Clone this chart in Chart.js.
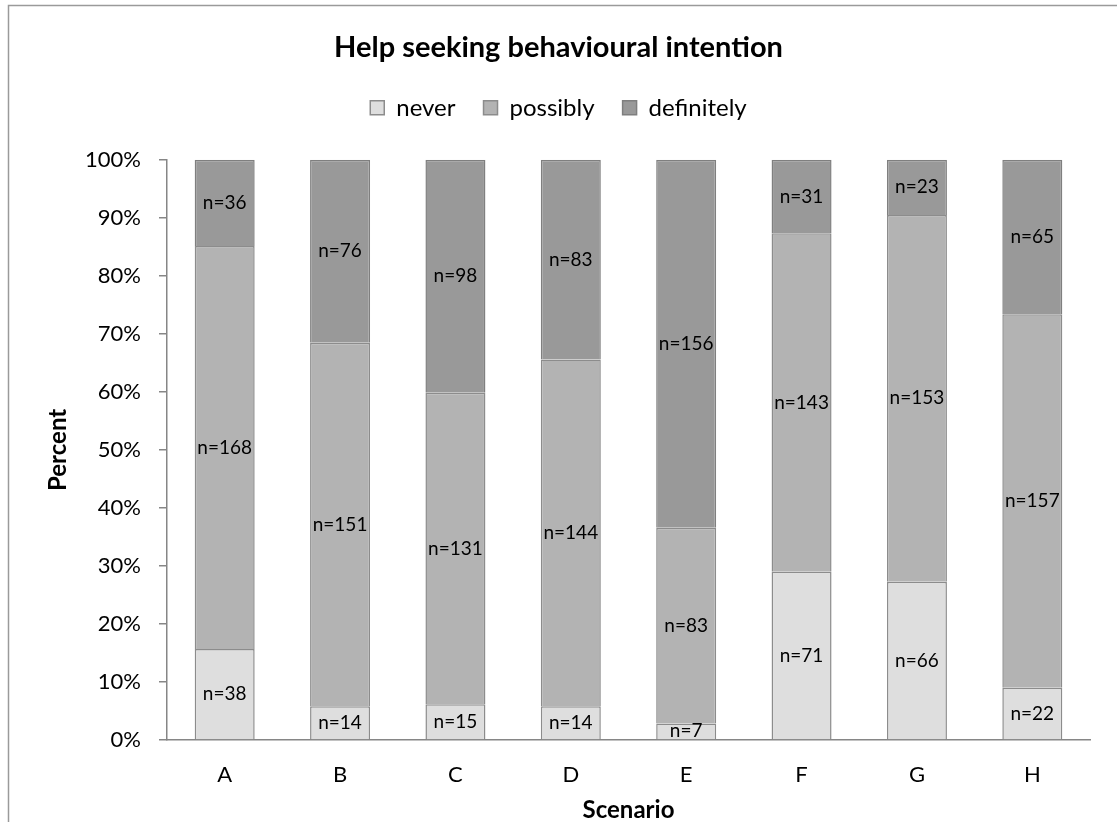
<!DOCTYPE html>
<html>
<head>
<meta charset="utf-8">
<script src="https://cdn.jsdelivr.net/npm/chart.js@4/dist/chart.umd.min.js"></script>
<style>
  html, body { margin: 0; padding: 0; background: #fff; }
  canvas { display: block; }
</style>
</head>
<body>
<canvas id="myChart" width="1117" height="822"></canvas>
<script>
// counts per scenario
var scenarios = ['A', 'B', 'C', 'D', 'E', 'F', 'G', 'H'];
var never      = [38, 14, 15, 14, 7, 71, 66, 22];
var possibly   = [168, 151, 131, 144, 83, 143, 153, 157];
var definitely = [36, 76, 98, 83, 156, 31, 23, 65];
var yTicks = [0, 10, 20, 30, 40, 50, 60, 70, 80, 90, 100];

var FONT = 'Lato, "Open Sans", sans-serif';

// turn counts into percent of each scenario total
var totals = scenarios.map(function(s, i){ return never[i] + possibly[i] + definitely[i]; });
function pct(arr){ return arr.map(function(v, i){ return v / totals[i] * 100; }); }

var seriesCounts = [never, possibly, definitely];

var frame = {
  id: 'frame',
  beforeDraw: function(chart){
    var c = chart.ctx;
    c.save();
    c.fillStyle = '#fff';
    c.fillRect(0, 0, chart.width, chart.height);
    c.strokeStyle = '#9a9a9a';
    c.lineWidth = 1.5;
    c.beginPath();
    c.moveTo(8.5, chart.height + 2);
    c.lineTo(8.5, 5.5);
    c.lineTo(chart.width + 2, 5.5);
    c.stroke();
    c.restore();
  }
};

var nLabels = {
  id: 'nLabels',
  afterDatasetsDraw: function(chart){
    var c = chart.ctx;
    c.save();
    c.font = '19px ' + FONT;
    c.fillStyle = '#000';
    c.textAlign = 'center';
    c.textBaseline = 'middle';
    chart.data.datasets.forEach(function(ds, di){
      var meta = chart.getDatasetMeta(di);
      meta.data.forEach(function(bar, i){
        var cy = (bar.y + bar.base) / 2;
        c.fillText('n=' + seriesCounts[di][i], bar.x, cy);
      });
    });
    c.restore();
  }
};

var ctx = document.getElementById('myChart');
var chart = new Chart(ctx, {
  type: 'bar',
  data: {
    labels: scenarios,
    datasets: [
      { label: 'never', data: pct(never), backgroundColor: '#dedede', borderColor: '#8c8c8c', borderWidth: 1.5 },
      { label: 'possibly', data: pct(possibly), backgroundColor: '#b3b3b3', borderColor: '#8c8c8c', borderWidth: 1.5 },
      { label: 'definitely', data: pct(definitely), backgroundColor: '#999999', borderColor: '#7f7f7f', borderWidth: 1.5 }
    ]
  },
  options: {
    responsive: false,
    animation: false,
    devicePixelRatio: 1,
    layout: { padding: 0 },
    datasets: { bar: { categoryPercentage: 1, barPercentage: 0.52 } },
    plugins: {
      title: {
        display: true,
        text: 'Help seeking behavioural intention',
        color: '#000',
        font: { family: FONT, size: 29, weight: 'bold' },
        padding: { top: 30, bottom: 3 }
      },
      // empty spacer between legend and plot
      subtitle: {
        display: true,
        text: '',
        weight: 500,
        font: { family: FONT, size: 10 },
        padding: { top: 18, bottom: 0 }
      },
      legend: {
        display: true,
        position: 'top',
        labels: {
          color: '#000',
          font: { family: FONT, size: 24 },
          boxWidth: 14,
          boxHeight: 14,
          padding: 28
        }
      },
      tooltip: { enabled: false }
    },
    scales: {
      x: {
        stacked: true,
        grid: { display: false, drawTicks: false },
        border: { color: '#868686', width: 1.5 },
        ticks: { color: '#000', font: { family: FONT, size: 22 }, padding: 22 },
        title: {
          display: true, text: 'Scenario', color: '#000',
          font: { family: FONT, size: 24, weight: 'bold' },
          padding: { top: 2, bottom: -3 }
        },
        afterFit: function(s){ s.height = 82; }
      },
      y: {
        stacked: true,
        min: 0, max: 100,
        afterBuildTicks: function(s){ s.ticks = yTicks.map(function(v){ return { value: v }; }); },
        grid: { drawOnChartArea: false, drawTicks: true, tickLength: 8, color: '#868686', lineWidth: 1.5 },
        border: { color: '#868686', width: 1.5 },
        ticks: {
          color: '#000', font: { family: FONT, size: 22 }, padding: 18,
          callback: function(v){ return v + '%'; }
        },
        title: {
          display: true, text: 'Percent', color: '#000',
          font: { family: FONT, size: 24, weight: 'bold' },
          padding: { top: 44, bottom: 0 }
        },
        afterFit: function(s){ s.width = 167; }
      },
      // blank margin on the right so the title stays centred on the canvas
      yRight: {
        position: 'right',
        min: 0, max: 100,
        grid: { display: false },
        border: { display: false },
        ticks: { display: false },
        afterFit: function(s){ s.width = 27; }
      }
    }
  },
  plugins: [frame, nLabels]
});
</script>
</body>
</html>
